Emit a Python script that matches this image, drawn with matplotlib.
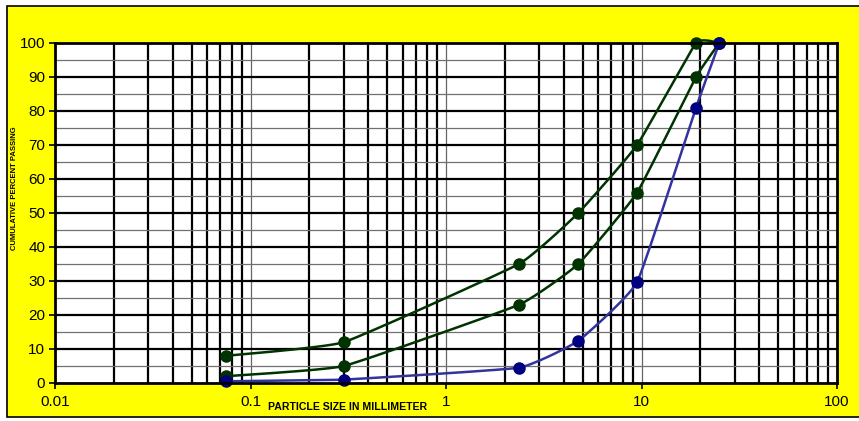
import numpy as np
import matplotlib
matplotlib.use("Agg")
import matplotlib.pyplot as plt
from matplotlib.patches import Rectangle

plt.rcParams['font.family'] = ['Liberation Sans', 'DejaVu Sans']

sizes = [0.075, 0.3, 2.36, 4.75, 9.5, 19, 25]
upper = [8, 12, 35, 50, 70, 100, 100]
middle = [2, 5, 23, 35, 56, 90, 100]
lower = [0.5, 1, 4.5, 12.4, 29.7, 81, 100]

x_ticks = [0.01, 0.1, 1, 10, 100]
x_tick_labels = ['0.01', '0.1', '1', '10', '100']
y_ticks = list(range(0, 101, 10))

W, H = 859, 421
fig = plt.figure(figsize=(W / 100, H / 100), dpi=100)
fig.patch.set_facecolor('white')
bg = Rectangle((7 / W, (H - 417) / H), (W - 7 + 5) / W, (417 - 6) / H,
               transform=fig.transFigure, facecolor='#FFFF00',
               edgecolor='black', linewidth=1.2, zorder=-10)
fig.patches.append(bg)

ax = fig.add_axes([55 / W, (H - 383) / H, (837 - 55) / W, (383 - 43) / H])
ax.set_zorder(2)
ax.set_facecolor('white')
ax.set_xscale('log')
ax.set_xlim(0.01, 100)
ax.set_ylim(0, 100)

# grid lines
for d in [0.01, 0.1, 1, 10]:
    for m in range(2, 10):
        ax.axvline(d * m, color='black', lw=1.6, zorder=1)
for d in [0.1, 1, 10]:
    ax.axvline(d, color='#666666', lw=0.9, zorder=1)
for yv in range(10, 100, 10):
    ax.axhline(yv, color='black', lw=1.6, zorder=1)
for yv in range(5, 100, 10):
    ax.axhline(yv, color='#707070', lw=0.9, zorder=1)


def smooth(xs, ys, n=30, k=0.35):
    px = (np.log10(np.array(xs, float)) + 2) * 195.5
    py = np.array(ys, float) * 3.4
    P = np.column_stack([px, py])
    out = []
    for i in range(len(P) - 1):
        p0 = P[i - 1] if i > 0 else P[i]
        p1 = P[i]
        p2 = P[i + 1]
        p3 = P[i + 2] if i + 2 < len(P) else P[i + 1]
        c1 = p1 + k * (p2 - p0) / 6
        c2 = p2 - k * (p3 - p1) / 6
        t = np.linspace(0, 1, n)[:, None]
        seg = (1 - t) ** 3 * p1 + 3 * (1 - t) ** 2 * t * c1 + 3 * (1 - t) * t ** 2 * c2 + t ** 3 * p2
        out.append(seg if i == 0 else seg[1:])
    S = np.vstack(out)
    return 10 ** (S[:, 0] / 195.5 - 2), S[:, 1] / 3.4


green = '#003300'
for ys, lc, mc in [(upper, green, green), (middle, green, green), (lower, '#3333A0', '#000080')]:
    sx, sy = smooth(sizes, ys)
    ax.plot(sx, sy, color=lc, lw=1.8, zorder=3, clip_on=False)
    ax.plot(sizes, ys, 'o', color=mc, ms=8, zorder=4, clip_on=False)

for s in ax.spines.values():
    s.set_linewidth(2)
    s.set_color('black')
    s.set_zorder(5)

ax.set_xticks(x_ticks)
ax.set_xticklabels(x_tick_labels)
ax.xaxis.set_minor_locator(matplotlib.ticker.NullLocator())
ax.set_yticks(y_ticks)
ax.tick_params(axis='both', direction='out', length=4, width=1.2, labelsize=11, color='black')
ax.tick_params(axis='x', pad=5)
ax.tick_params(axis='y', pad=3)

fig.text(348 / W, 1 - 407 / H, 'PARTICLE SIZE IN MILLIMETER', fontsize=7.6,
         fontweight='bold', ha='center', va='center')
fig.text(15 / W, 1 - 188 / H, 'CUMULATIVE PERCENT PASSING', fontsize=5.5,
         fontweight='bold', ha='center', va='center', rotation=90)

fig.savefig('out.png', dpi=100, facecolor=fig.get_facecolor())
